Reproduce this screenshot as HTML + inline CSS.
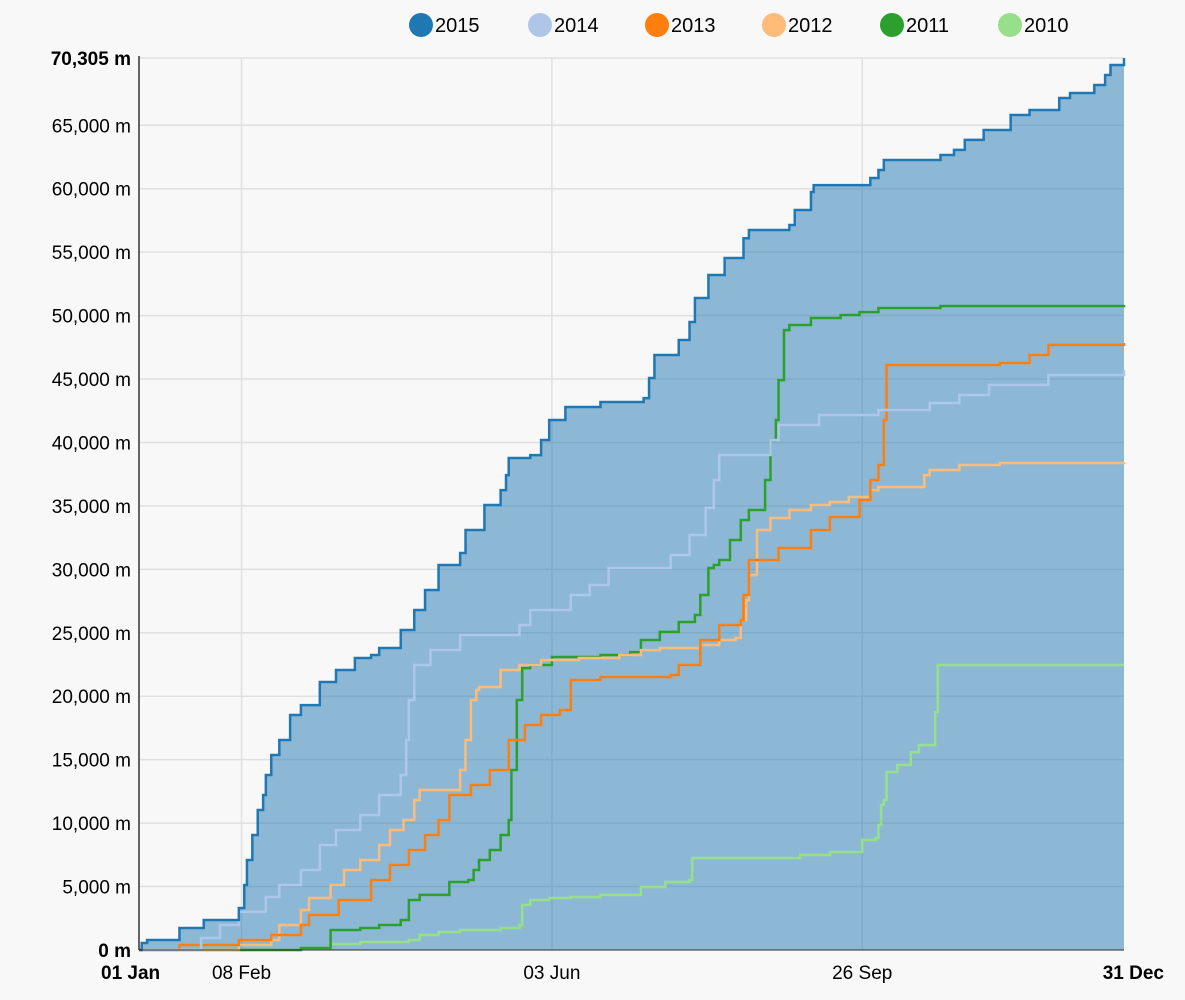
<!DOCTYPE html>
<html><head><meta charset="utf-8"><style>
body{margin:0;background:#f8f8f8;font-family:"Liberation Sans",sans-serif;}
svg{display:block}
</style></head><body>
<svg id="chart" width="1185" height="1000"></svg>
<script>
const years=["2015","2014","2013","2012","2011","2010"];
const colors=["#1f77b4","#aec7e8","#ff7f0e","#ffbb78","#2ca02c","#98df8a"];
const days2015=[0,1,3,15,24,37,39,40,42,44,46,47,49,52,56,60,67,73,80,86,89,97,102,106,111,119,121,128,134,136,137,145,149,152,158,171,187,189,191,200,204,206,211,217,224,226,241,243,249,250,271,274,276,297,302,306,313,323,330,341,345,354,358,360,365];
const vals2015=[0,550,790,1730,2360,3310,5120,7090,9060,11030,12220,13790,15370,16550,18520,19300,21120,22070,23010,23250,23800,25220,26800,28370,30340,31290,33100,35070,36250,37430,38780,39000,40200,41770,42800,43190,43500,45080,46900,48080,49500,51390,53200,54540,56100,56750,57140,58320,59740,60290,60850,61480,62270,62660,63060,63850,64630,65810,66210,67150,67550,68180,68970,69750,70305];
const days2014=[0,23,30,37,47,52,60,67,73,82,89,97,99,100,102,108,119,141,145,160,167,174,197,204,210,213,215,234,237,252,274,293,304,315,337,365];
const vals2014=[0,950,1970,3000,4180,5120,6310,8280,9460,10640,12220,13790,16550,19700,22460,23650,24830,25620,26800,27980,28770,30110,31130,32710,34840,37040,39010,40200,41380,42170,42560,43110,43740,44530,45320,45710];
const days2013=[0,15,37,49,60,63,74,86,93,100,106,111,115,123,130,137,143,149,156,160,171,197,200,208,215,223,224,226,237,249,256,267,271,274,276,277,319,330,337,365];
const vals2013=[0,390,790,1180,1970,2760,3940,5520,6700,7880,9060,10250,12220,13000,14190,16550,17730,18520,18920,21280,21520,21670,22460,24430,25620,26010,27980,30740,31680,33100,34130,35470,37040,38230,41770,46110,46270,46900,47690,47840];
const days2012=[0,37,49,52,60,63,71,76,82,89,93,98,102,104,115,119,121,123,125,126,134,141,149,163,178,186,193,208,215,221,223,225,226,229,234,241,249,256,263,271,274,285,291,293,304,319,365];
const vals2012=[0,390,790,1970,3150,4100,5120,6310,7090,8280,9460,10250,11820,12610,12610,14190,16550,19700,20490,20730,22070,22460,22860,23010,23250,23640,23800,24040,24430,24590,26010,27580,29550,33100,34050,34680,35070,35310,35700,36250,36490,36490,37430,37830,38230,38380,38460];
const days2011=[0,60,71,82,89,97,100,104,115,122,124,126,130,134,137,138,140,142,145,153,171,182,186,193,200,206,208,211,213,215,219,223,226,232,234,236,237,239,241,249,260,267,274,297,365];
const vals2011=[0,160,1580,1730,1970,2360,3940,4340,5360,5520,6310,7090,7880,9060,10250,14190,19700,22220,22460,23090,23250,23480,24430,25070,25850,26400,27980,30110,30340,30740,32320,33890,34680,37040,40200,41770,44920,48860,49260,49810,50050,50280,50600,50760,50840];
const days2010=[0,60,71,82,100,104,111,119,134,141,142,145,152,160,171,186,195,204,205,215,245,256,267,268,273,274,275,276,277,281,286,289,293,295,296,319,365];
const vals2010=[0,160,470,630,790,1180,1420,1580,1730,1970,3550,3940,4100,4180,4340,4970,5360,5520,7250,7250,7490,7720,7720,8670,8830,9850,11430,11820,14030,14580,15600,16150,16150,18760,22460,22460,22460];
const yTicks=[0,5000,10000,15000,20000,25000,30000,35000,40000,45000,50000,55000,60000,65000];
const yMax=70305;
const xTickDays=[0,38,153,268,364];
const xTickLabels=["01 Jan","08 Feb","03 Jun","26 Sep","31 Dec"];

const X0=139,X1=1124,Y0=950,Y1=58;
const x=d=>X0+d*(X1-X0)/365;
const y=v=>Y0-v*(Y0-Y1)/yMax;
const NS="http://www.w3.org/2000/svg";
const svg=document.getElementById('chart');
function mk(t,a,p){const e=document.createElementNS(NS,t);for(const k in a)e.setAttribute(k,a[k]);(p||svg).appendChild(e);return e;}
const fmt=v=>v.toLocaleString('en-US')+" m";

// grid
yTicks.concat([yMax]).forEach((v,i)=>{
  const g=mk('line',{x1:X0,x2:X1,y1:y(v),y2:y(v),stroke:'#e0e0e0','stroke-width':1.5});
  
  
  const t=mk('text',{x:131,y:y(v)+7,'text-anchor':'end','font-size':19,fill:'#000','font-weight':(v===0||v===yMax)?'bold':'normal'});
  t.textContent=fmt(v);
  
  
});
xTickDays.forEach((d,i)=>{
  if(i>0&&i<xTickDays.length-1){
    const g=mk('line',{x1:x(d),x2:x(d),y1:Y1,y2:Y0,stroke:'#e0e0e0','stroke-width':1.5});
    
    
  }
  const anchor=i===0?'start':(i===xTickDays.length-1?'end':'middle');
  const tx=i===0?101:(i===xTickDays.length-1?1164:x(d));
  const t=mk('text',{x:tx,y:979,'text-anchor':anchor,'font-size':19,'font-weight':(i===0||i===xTickDays.length-1)?'bold':'normal'});
  t.textContent=xTickLabels[i];
  
  
});

function stepPath(ds,vs){let p='M'+x(ds[0])+','+y(vs[0]);for(let i=1;i<ds.length;i++){p+='H'+x(ds[i])+'V'+y(vs[i]);}return p;}
// area for 2015
const area=mk('path',{d:stepPath(days2015,vals2015)+'V'+Y0+'H'+x(0)+'Z',fill:'#1f77b4','fill-opacity':0.5,stroke:'none'});


const series=[[days2015,vals2015],[days2014,vals2014],[days2013,vals2013],[days2012,vals2012],[days2011,vals2011],[days2010,vals2010]];
for(let i=series.length-1;i>=0;i--){
  const l=mk('path',{d:stepPath(series[i][0],series[i][1]),fill:'none',stroke:colors[i],'stroke-width':2.5});
  
  
}
// axes
const ax=mk('line',{x1:X0,x2:X0,y1:Y1-2,y2:Y0,stroke:'#333','stroke-width':1.5});


const bx=mk('line',{x1:X0,x2:X1,y1:Y0,y2:Y0,stroke:'#333','stroke-width':1});


// legend
const lx=[421,540,657,774,892,1010];
years.forEach((yr,i)=>{
  const g=mk('g',{});
  
  
  mk('circle',{cx:lx[i],cy:25,r:12,fill:colors[i]},g);
  const t=mk('text',{x:lx[i]+14,y:32,'font-size':20},g);
  t.textContent=yr;
});
</script>
</body></html>
